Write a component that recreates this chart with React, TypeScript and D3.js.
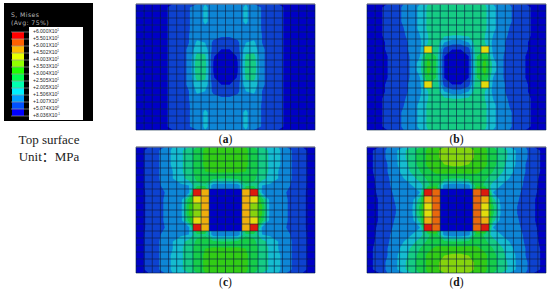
import React, { useEffect, useRef } from "react";
import * as d3 from "d3";

// legend, top to bottom
const tickMantissa = ["+6.000", "+5.501", "+5.001", "+4.502", "+4.003", "+3.503", "+3.004", "+2.505", "+2.005", "+1.506", "+1.007", "+5.074", "+8.036"];
const tickExponent = ["1", "1", "1", "1", "1", "1", "1", "1", "1", "1", "1", "0", "-1"];
const tickValues = [60, 55.01, 50.01, 45.02, 40.03, 35.03, 30.04, 25.05, 20.05, 15.06, 10.07, 5.074, 0.8036];

// band colours, lowest stress first
const plotColors = ["#0404c6", "#0a42d0", "#0a86d6", "#12bcd0", "#14cc84", "#12cd4a", "#30cc14", "#86d410", "#e2dc10", "#eeae10", "#e8680c", "#dc1c10"];
const legendColors = ["#0000ff", "#0050ff", "#00a0ff", "#00f0ff", "#00ffb0", "#00ff50", "#20ff00", "#90ff00", "#e8ff00", "#ffb800", "#ff6000", "#ff0000"];

// stress in MPa, one quarter of the plate (rows from the edge to the middle)
const fieldA = [
  [2, 3, 4, 4.5, 6, 8, 9.8, 12, 16, 13, 13],
  [2, 3, 4, 4.5, 6, 8, 9.8, 12, 16, 13, 13],
  [2, 3, 4, 4.5, 6, 8, 9.8, 12, 16, 13, 13],
  [2, 3, 4, 4.5, 6, 8, 9.8, 12, 14, 13, 13],
  [2, 3, 4, 4.5, 6, 8, 10, 13, 14, 12, 10.5],
  [2, 3, 4, 4.5, 6, 8, 10, 16, 15, 9, 8.5],
  [2, 3, 4, 4.5, 6, 8, 11, 18, 18, 8, 5],
  [2, 3, 4, 4.5, 6, 8, 11, 22, 21, 5.5, 2],
  [2, 3, 4, 4.5, 6, 8, 11, 23, 22, 5, 2],
];
const fieldB = [
  [3, 4.5, 6, 9, 10.5, 13, 16, 21, 23, 24, 24],
  [3, 4.5, 6, 9, 10.5, 13, 16, 21, 23, 24, 24],
  [3, 4.5, 6, 9, 10.5, 13, 16, 21, 23, 23.5, 23.5],
  [3, 4.5, 6, 8.5, 10, 13, 16, 21, 22, 23, 22],
  [3, 4.5, 6, 8, 9.5, 12, 15, 20, 22, 21, 20],
  [3, 4, 5.5, 8, 9, 11, 14, 20, 24, 15, 12],
  [3, 4, 5.5, 7.5, 9, 11, 14, 25, 25, 8, 5],
  [3, 4, 5, 7.5, 9, 10.5, 15, 30, 25, 5, 2],
  [3, 4, 5, 7.5, 9, 10.5, 18, 32, 25, 5, 2],
];
const fieldC = [
  [4, 6, 9, 12, 16, 19, 23, 27, 31, 32, 32],
  [4, 6, 9, 12, 16, 19, 23, 27, 31, 32, 32],
  [4, 6, 9, 12, 16, 19, 23, 27, 31, 32, 32],
  [4, 6, 9, 12, 15, 19, 23, 27, 30, 31, 31],
  [4, 6, 9, 12, 15, 18, 22, 26, 28, 26, 25],
  [4, 6, 9, 11, 13, 14, 15, 24, 24, 12, 12],
  [3.5, 6, 8, 10, 12, 13, 14, 40, 40, 8, 8],
  [3.5, 6, 7.5, 10.5, 11, 13, 27, 40, 40, 4, 3],
  [3.5, 6, 7.5, 10.5, 11, 13, 30, 40, 40, 4, 3],
];
const fieldD = [
  [4.5, 7, 11, 14, 19, 23, 27, 31, 34, 37, 38],
  [4.5, 7, 11, 14, 19, 23, 27, 31, 34, 37, 37],
  [4.5, 7, 10, 14, 18, 22, 27, 31, 33, 35, 36],
  [4.5, 7, 10, 13, 17, 21, 25, 29, 31, 32, 32],
  [4, 6.5, 9.5, 12, 15, 18, 22, 26, 28, 26, 25],
  [4, 6, 9, 12, 13, 15, 18, 24, 28, 13, 12],
  [3.5, 6, 8.5, 11, 12, 14, 15, 45, 45, 9, 8],
  [3, 5.5, 8, 10.5, 12, 13, 22, 45, 45, 4, 3],
  [3, 5.5, 8, 10, 11.5, 14, 26, 45, 45, 4, 3],
];

// elements around the cut-out keep a flat colour: the middle three rows, inner four columns
const coreB = [
  [42, null, null, null],
  [null, null, null, null],
  [null, null, null, null],
];
const coreC = [
  [57, 47, 2, 2],
  [42, 47, 2, 2],
  [40, 47, 2, 2],
];
const coreD = [
  [56, 52, 2, 2],
  [47, 52, 2, 2],
  [42, 52, 2, 2],
];

const panelNames = ["a", "b", "c", "d"];
const panelFields = [fieldA, fieldB, fieldC, fieldD];
const panelCores = [null, coreB, coreC, coreD];

const nx = 22;
const ny = 18;
const levels = tickValues.slice().reverse();

const App = () => {
  const ref = useRef<SVGSVGElement>(null);

  useEffect(() => {
    const svg = d3.select(ref.current);
    svg.selectAll("*").remove();

    svg
      .append("defs")
      .append("filter")
      .attr("id", "soft")
      .append("feGaussianBlur")
      .attr("stdDeviation", 0.35);

    const color = d3.scaleThreshold<number, string>().domain(levels.slice(1, -1)).range(plotColors);
    const panelX = d3.scalePoint().domain(["0", "1"]).range([136, 367]);
    const panelY = d3.scalePoint().domain(["0", "1"]).range([4, 147]);

    panelNames.forEach((name, p) => {
      const col = String(p % 2);
      const row = String(Math.floor(p / 2));
      const left = panelX(col) as number;
      const top = panelY(row) as number;
      const x = d3.scaleLinear().domain([0, nx]).range([left, left + 179]);
      const y = d3.scaleLinear().domain([0, ny]).range([top, top + 126]);

      const quarter = panelFields[p];
      const values: number[] = [];
      for (let j = 0; j < ny; j++) {
        const r = quarter[j < ny / 2 ? j : ny - 1 - j];
        for (let i = 0; i < nx; i++) values.push(r[i < nx / 2 ? i : nx - 1 - i]);
      }

      const contours = d3.contours().size([nx, ny]).thresholds(levels.slice(1, -1))(values);
      const path = d3.geoPath(
        d3.geoTransform({
          point(px, py) {
            this.stream.point(x(px), y(py));
          },
        })
      );

      const g = svg.append("g").attr("filter", "url(#soft)");
      g.append("rect")
        .attr("x", x(0))
        .attr("y", y(0))
        .attr("width", x(nx) - x(0))
        .attr("height", y(ny) - y(0))
        .attr("fill", plotColors[0]);
      g.selectAll("path.band")
        .data(contours)
        .join("path")
        .attr("class", "band")
        .attr("d", (d) => path(d as any))
        .attr("fill", (_, i) => plotColors[i + 1]);

      // flat cells next to the cut-out, mirrored into all four corners
      const core = panelCores[p];
      if (core) {
        const cells: { i: number; j: number; v: number }[] = [];
        core.forEach((r, a) =>
          r.forEach((v, b) => {
            if (v === null) return;
            const j = ny / 2 - core.length + a;
            const i = nx / 2 - r.length + b;
            [j, ny - 1 - j].forEach((jj) => [i, nx - 1 - i].forEach((ii) => cells.push({ i: ii, j: jj, v })));
          })
        );
        g.selectAll("rect.cell")
          .data(cells)
          .join("rect")
          .attr("class", "cell")
          .attr("x", (d) => x(d.i))
          .attr("y", (d) => y(d.j))
          .attr("width", x(1) - x(0))
          .attr("height", y(1) - y(0))
          .attr("fill", (d) => color(d.v));
      }

      // mesh
      g.append("g")
        .selectAll("line")
        .data(d3.range(0, nx + 1))
        .join("line")
        .attr("x1", (d) => x(d))
        .attr("x2", (d) => x(d))
        .attr("y1", y(0))
        .attr("y2", y(ny))
        .attr("stroke", "#0a1a3c")
        .attr("stroke-opacity", 0.75)
        .attr("stroke-width", 0.8);
      g.append("g")
        .selectAll("line")
        .data(d3.range(0, ny + 1))
        .join("line")
        .attr("x1", x(0))
        .attr("x2", x(nx))
        .attr("y1", (d) => y(d))
        .attr("y2", (d) => y(d))
        .attr("stroke", "#0a1a3c")
        .attr("stroke-opacity", 0.75)
        .attr("stroke-width", 0.8);
      g.append("line")
        .attr("x1", x(0))
        .attr("x2", x(nx))
        .attr("y1", y(0))
        .attr("y2", y(0))
        .attr("stroke", "#8a8f9a")
        .attr("stroke-width", 1);

      const caption = svg
        .append("text")
        .attr("x", (x(0) + x(nx)) / 2)
        .attr("y", y(ny) + 13)
        .attr("text-anchor", "middle")
        .attr("font-family", "Liberation Serif")
        .attr("font-size", 11.5)
        .attr("fill", "#111");
      caption.append("tspan").text("(");
      caption.append("tspan").attr("font-weight", "bold").text(name);
      caption.append("tspan").text(")");
    });

    // legend
    const legend = svg.append("g");
    legend.append("rect").attr("x", 4).attr("y", 3).attr("width", 89).attr("height", 118).attr("fill", "#000");
    legend.append("rect").attr("x", 29).attr("y", 27).attr("width", 54).attr("height", 93).attr("fill", "#fff");

    const ly = d3.scaleLinear().domain([0, 12]).range([116, 32]);
    legend
      .selectAll("rect.swatch")
      .data(legendColors)
      .join("rect")
      .attr("class", "swatch")
      .attr("x", 12)
      .attr("y", (_, i) => ly(i + 1))
      .attr("width", 12)
      .attr("height", ly(0) - ly(1))
      .attr("fill", (d) => d);
    legend
      .selectAll("line")
      .data(d3.range(0, 13))
      .join("line")
      .attr("x1", 11)
      .attr("x2", 29)
      .attr("y1", (d) => ly(d))
      .attr("y2", (d) => ly(d))
      .attr("stroke", "#9a9a9a")
      .attr("stroke-width", 0.7);

    const labels = legend
      .selectAll("text.tick")
      .data(tickMantissa)
      .join("text")
      .attr("class", "tick")
      .attr("x", 33)
      .attr("y", (_, i) => ly(12 - i) + 0.6)
      .attr("font-family", "Liberation Sans")
      .attr("font-size", 5)
      .attr("fill", "#222");
    labels.append("tspan").text((d) => d + "X10");
    labels
      .append("tspan")
      .attr("dy", -2)
      .attr("font-size", 3)
      .text((_, i) => tickExponent[i]);

    legend
      .selectAll("text.title")
      .data(["S, Mises", "(Avg: 75%)"])
      .join("text")
      .attr("class", "title")
      .attr("x", 11)
      .attr("y", (_, i) => 17 + i * 8)
      .attr("font-family", "DejaVu Sans")
      .attr("font-size", 6.2)
      .attr("letter-spacing", 0.4)
      .attr("fill", "#b8b8b8")
      .text((d) => d);

    svg
      .selectAll("text.note")
      .data(["Top surface", "Unit：MPa"])
      .join("text")
      .attr("class", "note")
      .attr("x", 49)
      .attr("y", (_, i) => 144 + i * 16.5)
      .attr("text-anchor", "middle")
      .attr("font-family", "Liberation Serif, Noto Sans CJK SC")
      .attr("font-size", 13)
      .attr("fill", "#222")
      .text((d) => d);
  }, []);

  return <svg ref={ref} width={550} height={293} style={{ position: "absolute", left: 0, top: 0, background: "#fff" }}></svg>;
};

export default App;
